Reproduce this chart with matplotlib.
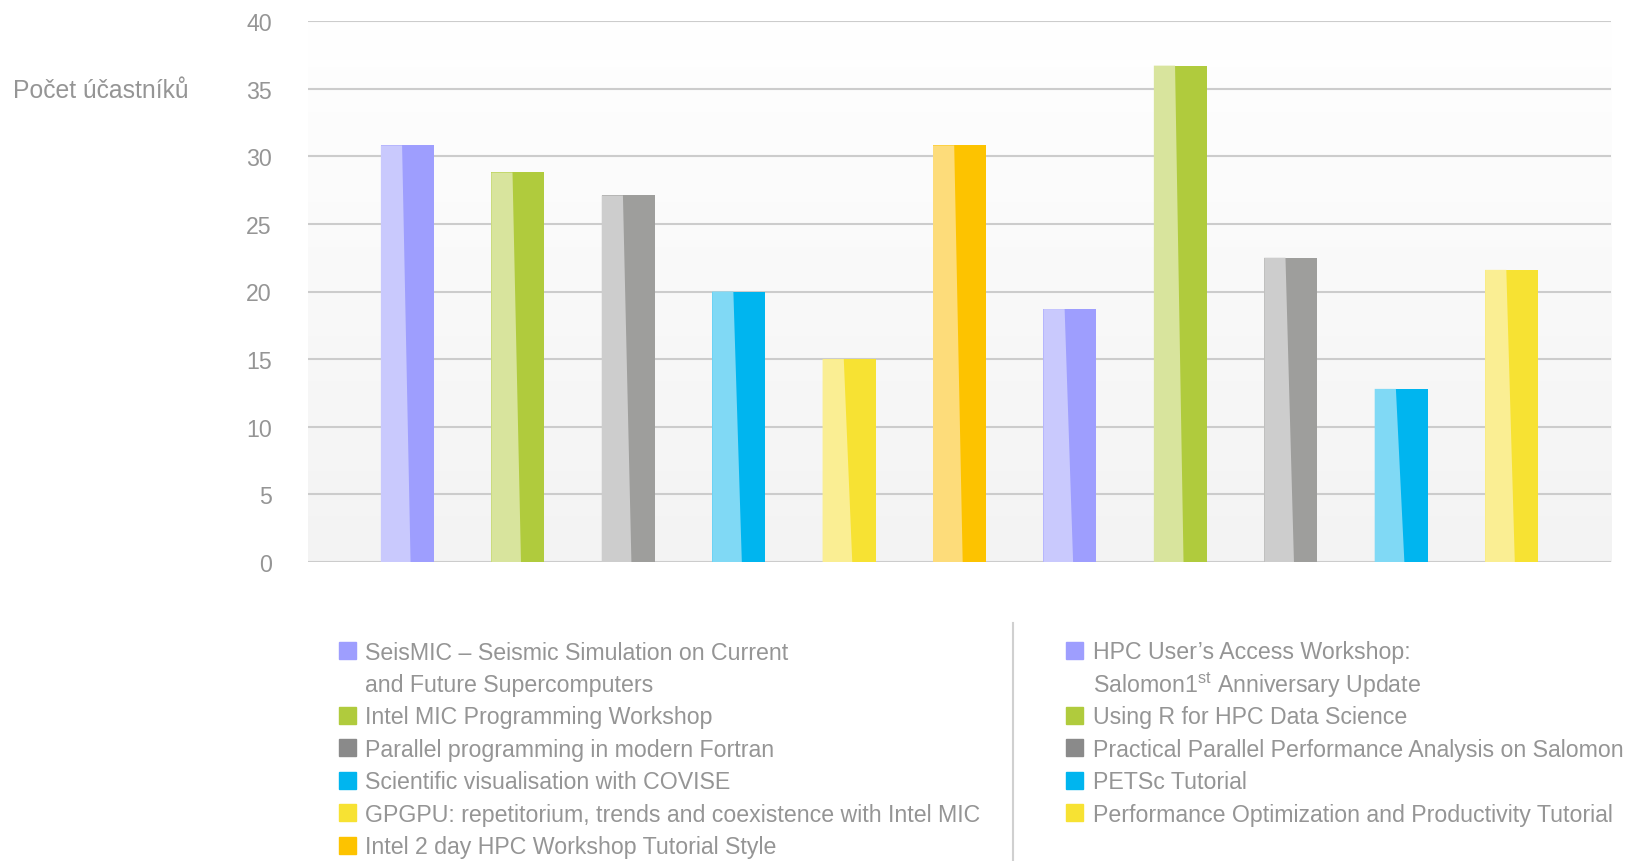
import numpy as np
import matplotlib
matplotlib.use("Agg")
import matplotlib.pyplot as plt
from matplotlib.colors import LinearSegmentedColormap
from matplotlib.patches import Rectangle
from matplotlib.lines import Line2D

# Počty účastníků kurzů
kurzy = [
    "SeisMIC – Seismic Simulation on Current\nand Future Supercomputers",
    "Intel MIC Programming Workshop",
    "Parallel programming in modern Fortran",
    "Scientific visualisation with COVISE",
    "GPGPU: repetitorium, trends and coexistence with Intel MIC",
    "Intel 2 day HPC Workshop Tutorial Style",
    "HPC User’s Access Workshop:\nSalomon1$^{\\mathrm{st}}$ Anniversary Update",
    "Using R for HPC Data Science",
    "Practical Parallel Performance Analysis on Salomon",
    "PETSc Tutorial",
    "Performance Optimization and Productivity Tutorial",
]
ucastnici = [30.8, 28.8, 27.1, 20.0, 15.0, 30.8, 18.7, 36.7, 22.5, 12.8, 21.6]

barvy_tmave = ["#9e9efe", "#b0cb3d", "#9e9e9c", "#00b5ef", "#f7e233", "#fdc300",
               "#9e9efe", "#b0cb3d", "#9e9e9c", "#00b5ef", "#f7e233"]
barvy_svetle = ["#c9c9fd", "#d8e49d", "#cdcdcd", "#80d9f5", "#faee93", "#fddc7a",
                "#c9c9fd", "#d8e49d", "#cdcdcd", "#80d9f5", "#faee93"]
barvy_legenda = ["#9e9efe", "#b0cb3d", "#8a8a8a", "#00b5ef", "#f7e233", "#fdc300",
                 "#9e9efe", "#b0cb3d", "#8a8a8a", "#00b5ef", "#f7e233"]

SEDA = "#959595"
PISMO = "Liberation Sans"
VELIKOST = 16.7

plt.rcParams["font.family"] = [PISMO, "DejaVu Sans"]
plt.rcParams["mathtext.fontset"] = "custom"
plt.rcParams["mathtext.rm"] = PISMO

W, H = 1626, 862
fig = plt.figure(figsize=(W / 100, H / 100), dpi=100)
ax = fig.add_axes([308 / W, 1 - 563 / H, (1611 - 308) / W, (563 - 22) / H])

x = np.arange(len(ucastnici))
sirka = 0.48
ax.set_xlim(-0.9, 10.9)
ax.set_ylim(0, 40)

# jemny prechod pozadi zdola nahoru
prechod = LinearSegmentedColormap.from_list("pozadi", ["#f3f3f3", "#ffffff"])
ax.imshow(np.linspace(0, 1, 256).reshape(-1, 1), extent=[-0.9, 10.9, 0, 40],
          aspect="auto", cmap=prechod, origin="lower", zorder=0)

# tmava cast sloupce + svetla sikma cast vlevo
ax.bar(x, ucastnici, width=sirka, color=barvy_tmave, zorder=3)
for xi, v, c in zip(x, ucastnici, barvy_svetle):
    l = xi - sirka / 2
    ax.fill([l, l + 0.40 * sirka, l + 0.56 * sirka, l], [v, v, 0, 0],
            color=c, lw=0, zorder=4)

ax.set_yticks(range(0, 41, 5))
ax.set_xticks([])
ax.set_axisbelow(True)
ax.yaxis.grid(True, color="#cccccc", lw=1.5)
ax.tick_params(axis="y", length=0, pad=26, labelsize=VELIKOST, labelcolor=SEDA)
for s in ax.spines.values():
    s.set_visible(False)

fig.text(13 / W, 1 - 91 / H, "Počet účastníků", fontsize=17.8, color=SEDA,
         ha="left", va="center")

# legenda ve dvou sloupcich
radek = 32.5
sloupce = [(kurzy[:6], barvy_legenda[:6], 339, 365),
           (kurzy[6:], barvy_legenda[6:], 1066, 1093)]
for popisky, barvy, x_ctv, x_txt in sloupce:
    y = 651
    for text, c in zip(popisky, barvy):
        fig.patches.append(Rectangle((x_ctv / W, 1 - (y + 8.5) / H), 17 / W, 17 / H,
                                     transform=fig.transFigure, color=c))
        for cast in text.split("\n"):
            fig.text(x_txt / W, 1 - (y + 2) / H, cast, fontsize=VELIKOST, color=SEDA,
                     ha="left", va="center")
            y += radek

fig.lines.append(Line2D([1013 / W, 1013 / W], [0, 1 - 624 / H],
                        transform=fig.transFigure, color="#d0d0d0", lw=1.5))

fig.savefig("out.png", dpi=100, facecolor="white")
